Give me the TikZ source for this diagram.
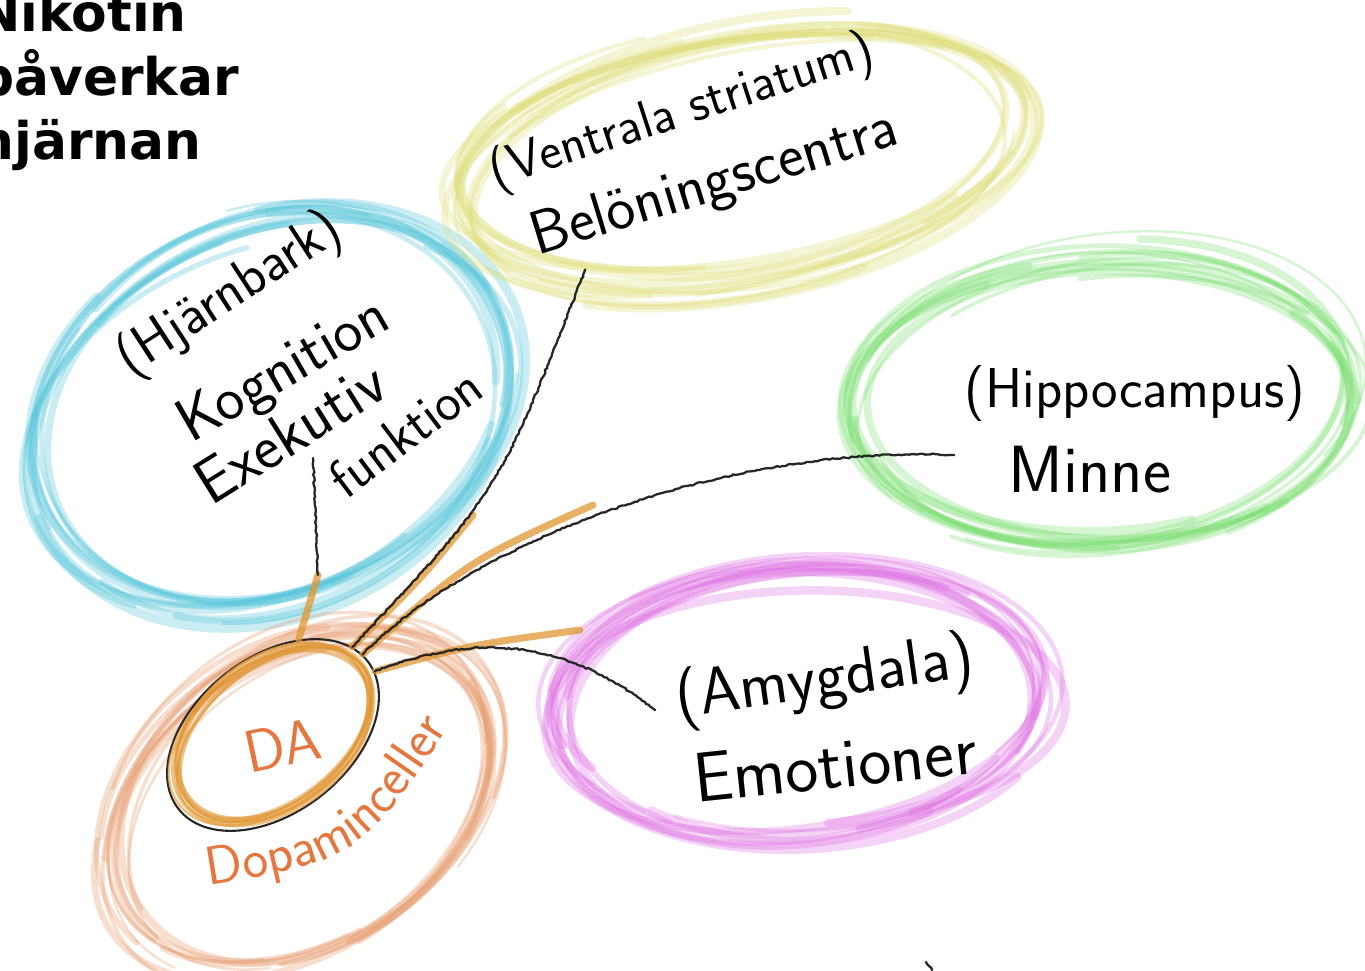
\documentclass[tikz,border=0pt]{standalone}
\usepackage{fontspec}
\setmainfont{DejaVu Sans}
\usetikzlibrary{shapes.geometric,decorations.pathmorphing,decorations.text}

\definecolor{hjcyan}{RGB}{80,196,218}
\definecolor{vsyellow}{RGB}{222,222,120}
\definecolor{hpgreen}{RGB}{120,222,110}
\definecolor{amviolet}{RGB}{222,110,228}
\definecolor{dporange}{RGB}{230,150,100}
\definecolor{daorange}{RGB}{224,150,50}
\definecolor{dptext}{RGB}{228,118,62}

\begin{document}
\begin{tikzpicture}[%
    x=0.02cm, y=-0.02cm,        % one unit is one pixel of the sketch, y downwards
    ]
% -------------------------------------------------
% Pen and brush styles
\tikzset{
  brush/.style={line cap=round, opacity=.3},
  hand/.style={font={\fontsize{#1}{#1}\selectfont\sffamily}, inner sep=0pt},
  hand/.default=32,
  % connector line styles: orange smear under a black pencil line
  link/.style={draw=daorange, line width=4pt, opacity=.75, line cap=round},
  wire/.style={draw=black!85, line width=1.3pt, line cap=round, decorate,
    decoration={random steps, segment length=1.5pt, amplitude=.45pt}},
}
\fill[white] (0,0) rectangle (1365,970);
\useasboundingbox (0,0) rectangle (1365,970);
\pgfmathsetseed{7}
% -------------------------------------------------
% Coloured brush ellipses round each region
\foreach \cx/\cy/\rx/\ry/\rot/\col in {270/410/248/185/25/hjcyan,
    740/160/288/120/10/vsyellow, 1105/400/248/142/4/hpgreen,
    800/702/245/130/5/amviolet, 300/800/212/148/35/dporange}
{
  \foreach \k in {1,...,14}
  {
    \pgfmathsetmacro{\jx}{\cx+10*rand}
    \pgfmathsetmacro{\jy}{\cy+10*rand}
    \pgfmathsetmacro{\jrx}{\rx+16*rand}
    \pgfmathsetmacro{\jry}{\ry+14*rand}
    \pgfmathsetmacro{\ja}{360*rnd}
    \pgfmathsetmacro{\jw}{1.2+4*rnd}
    \draw[brush, draw=\col, line width=\jw pt, shift={(\jx,\jy)}, rotate=\rot+5*rand]
      ({\jrx*cos(\ja)},{\jry*sin(\ja)})
      arc[start angle=\ja, delta angle=240+80*rnd, x radius=\jrx, y radius=\jry];
  }
}
% -------------------------------------------------
% The DA cells
\node[ellipse, draw=black!85, line width=1.2pt, rotate=38, inner sep=0pt,
  minimum width=4.8cm, minimum height=3.1cm] (da) at (273,735) {};
\foreach \k in {1,...,6}
  \draw[brush, draw=daorange, opacity=.6, line width={(1+2.5*rnd)*1pt},
    shift={(273+3*rand,735+3*rand)}, rotate=38+3*rand]
    (0,0) ellipse[x radius={112+5*rand}, y radius={70+4*rand}];
% -------------------------------------------------
% Connector ends
\coordinate (kog-end) at (313,458);
\coordinate (kog-mid) at (318,575);
\coordinate (bel-end) at (585,270);
\coordinate (bel-mid) at (473,515);
\coordinate (min-end) at (953,455);
\coordinate (min-mid) at (593,505);
\coordinate (emo-end) at (655,710);
\coordinate (emo-mid) at (580,630);

\draw[link] (da.37) -- (kog-mid);
\draw[link] (da.10) .. controls (420,580) .. (bel-mid);
\draw[link] (da.4) .. controls (470,560) .. (min-mid);
\draw[link] (da.354) .. controls (470,645) .. (emo-mid);

\draw[wire] (kog-mid) -- (kog-end);
\draw[wire] (da.10) .. controls (500,490) .. (bel-end);
\draw[wire] (da.4) .. controls (470,545) and (720,445) .. (min-end);
\draw[wire] (da.354) .. controls (470,635) and (560,635) .. (emo-end);
\draw[wire] (926,962) -- (932,970);
% -------------------------------------------------
% Handwritten labels
\node[hand=32, rotate=33] (cortex) at (230,295) {(Hjärnbark)};
\node[hand=35, rotate=30] (kognition) at (285,372) {Kognition};
\node[hand=36, rotate=32] (exekutiv) at (290,432) {Exekutiv};
\node[hand=31, rotate=37] (funktion) at (405,432) {funktion};
\node[hand=30, rotate=18] (striatum) at (682,113) {(Ventrala striatum)};
\node[hand=35, rotate=17] (belon) at (715,185) {Belöningscentra};
\node[hand=32] (hippo) at (1135,393) {(Hippocampus)};
\node[hand=38] (minne) at (1090,470) {Minne};
\node[hand=37, rotate=8] (amygdala) at (825,681) {(Amygdala)};
\node[hand=40, rotate=6] (emotion) at (835,764) {Emotioner};
\node[hand=34, rotate=12, text=dptext] (datext) at (282,745) {DA};
% the cell name bends round the DA ring
\path[decorate, decoration={text along path, text align=center,
    text color=dptext, text={|\fontsize{31}{31}\selectfont\sffamily|Dopaminceller}}]
  (176,890) .. controls (362,862) .. (466,700);

% Title, cut off at the left edge
\node[anchor=north west, align=left, inner sep=0pt,
  font=\fontsize{29.5}{36.4}\selectfont\bfseries] (title) at (-23,-8)
  {Nikotin\\påverkar\\hjärnan};
% -------------------------------------------------
\end{tikzpicture}
\end{document}
